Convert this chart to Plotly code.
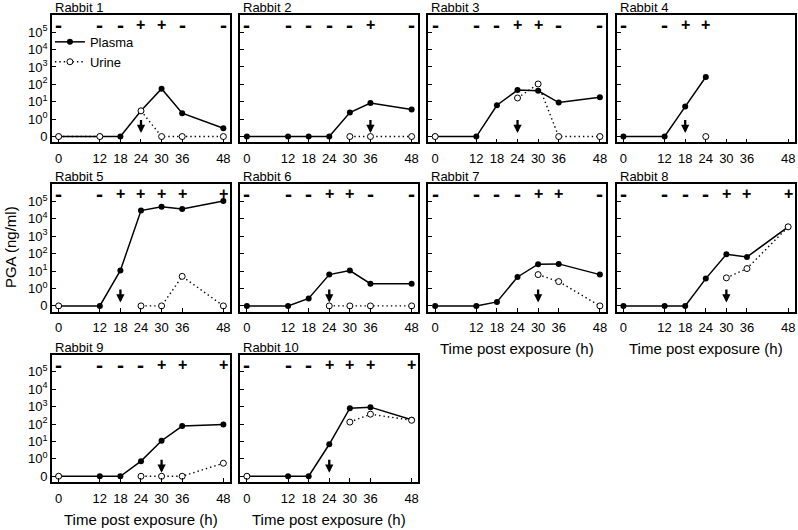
import math
import plotly.graph_objects as go

# ---------------- data ----------------
TIMES = [0, 12, 18, 24, 30, 36, 48]
TICK_TIMES = [0, 12, 18, 24, 30, 36, 48]
RABBITS = ["Rabbit 1", "Rabbit 2", "Rabbit 3", "Rabbit 4", "Rabbit 5",
           "Rabbit 6", "Rabbit 7", "Rabbit 8", "Rabbit 9", "Rabbit 10"]

# PGA (ng/ml); 0 = undetectable, None = not measured
PLASMA_R1 = [0, 0, 0, 3.0, 56, 2.2, 0.3]
PLASMA_R2 = [0, 0, 0, 0, 2.4, 8.5, 3.6]
PLASMA_R3 = [0, 0, 6.3, 47, 43, 9, 18]
PLASMA_R4 = [0, 0, 5.3, 263, None, None, None]
PLASMA_R5 = [0, 0, 11, 30000, 50000, 37000, 107000]
PLASMA_R6 = [0, 0, 0.27, 6.3, 10.7, 1.9, 1.9]
PLASMA_R7 = [0, 0, 0.17, 4.6, 25, 26, 6.3]
PLASMA_R8 = [0, 0, 0, 3.7, 92, 65, 3500]
PLASMA_R9 = [0, 0, 0, 0.74, 11, 77, 95]
PLASMA_R10 = [0, 0, 0, 6.9, 820, 940, 178]

URINE_R1 = [0, 0, None, 3.0, 0, 0, 0]
URINE_R2 = [None, None, None, None, 0, 0, 0]
URINE_R3 = [0, None, None, 16.5, 105, 0, 0]
URINE_R4 = [None, None, None, 0, None, None, None]
URINE_R5 = [0, None, None, 0, 0, 5, 0]
URINE_R6 = [None, None, None, 0, 0, 0, 0]
URINE_R7 = [None, None, None, None, 6.3, 2.5, 0]
URINE_R8 = [None, None, None, None, 4.1, 14, 3500]
URINE_R9 = [0, None, None, 0, 0, 0, 0.56]
URINE_R10 = [0, None, None, None, 130, 370, 165]

SIGNS_R1 = ["-", "-", "-", "+", "+", "-", "-"]
SIGNS_R2 = ["-", "-", "-", "-", "-", "+", "-"]
SIGNS_R3 = ["-", "-", "-", "+", "+", "-", "-"]
SIGNS_R4 = ["-", "-", "+", "+", None, None, None]
SIGNS_R5 = ["-", "-", "+", "+", "+", "+", "+"]
SIGNS_R6 = ["-", "-", "-", "+", "+", "-", "-"]
SIGNS_R7 = ["-", "-", "-", "-", "+", "+", "-"]
SIGNS_R8 = ["-", "-", "-", "-", "+", "+", "+"]
SIGNS_R9 = ["-", "-", "-", "-", "+", "+", "+"]
SIGNS_R10 = ["-", "-", "-", "+", "+", "+", "+"]

ARROW_TIMES = [24, 36, 24, 18, 18, 24, 30, 30, 30, 24]

Y_TICK_VALS = [-1, 0, 1, 2, 3, 4, 5]
Y_TICK_TEXT = ["0", "10<sup>0</sup>", "10<sup>1</sup>", "10<sup>2</sup>",
               "10<sup>3</sup>", "10<sup>4</sup>", "10<sup>5</sup>"]

PLASMA = [PLASMA_R1, PLASMA_R2, PLASMA_R3, PLASMA_R4, PLASMA_R5,
          PLASMA_R6, PLASMA_R7, PLASMA_R8, PLASMA_R9, PLASMA_R10]
URINE = [URINE_R1, URINE_R2, URINE_R3, URINE_R4, URINE_R5,
         URINE_R6, URINE_R7, URINE_R8, URINE_R9, URINE_R10]
SIGNS = [SIGNS_R1, SIGNS_R2, SIGNS_R3, SIGNS_R4, SIGNS_R5,
         SIGNS_R6, SIGNS_R7, SIGNS_R8, SIGNS_R9, SIGNS_R10]


def ymap(v):
    """0 plotted on a separate 'zero' level one decade below 10^0."""
    if v is None:
        return None
    if v <= 0:
        return -1
    return math.log10(v)


# ---------------- layout ----------------
W, H = 798, 530
COL_LEFT = [52, 240.5, 429, 617.5]
ROW_TOP = [15, 185, 356]
PW, PH = 178, 128
XR = [-1.95, 49.85]
YR = [-1.34, 5.99]
FONT = "Liberation Sans, Arial, sans-serif"

fig = go.Figure()
layout = dict(
    width=W, height=H, autosize=False,
    margin=dict(l=0, r=0, t=0, b=0, pad=0),
    paper_bgcolor="white", plot_bgcolor="white",
    font=dict(family=FONT, size=13, color="black"),
    showlegend=True,
    legend=dict(x=50 / W, y=1 - 27 / H, xanchor="left", yanchor="top",
                bgcolor="rgba(0,0,0,0)", font=dict(size=13),
                tracegroupgap=0),
)
annotations = []

for i in range(10):
    r, c = divmod(i, 4)
    left, top = COL_LEFT[c], ROW_TOP[r]
    n = "" if i == 0 else str(i + 1)
    xa, ya = "x" + n, "y" + n
    layout["xaxis" + n] = dict(
        domain=[left / W, (left + PW) / W], anchor=ya, range=XR,
        tickvals=TICK_TIMES, ticktext=[str(t) for t in TICK_TIMES],
        ticks="inside", ticklen=4, tickwidth=1.2, tickcolor="black",
        showline=True, mirror=True, linecolor="black", linewidth=1.6,
        showgrid=False, zeroline=False, tickfont=dict(size=13),
        ticklabelstandoff=3,
    )
    layout["yaxis" + n] = dict(
        domain=[1 - (top + PH) / H, 1 - top / H], anchor=xa, range=YR,
        tickvals=Y_TICK_VALS, ticktext=Y_TICK_TEXT,
        showticklabels=(c == 0),
        ticks="inside", ticklen=4, tickwidth=1.2, tickcolor="black",
        showline=True, mirror=True, linecolor="black", linewidth=1.6,
        showgrid=False, zeroline=False, tickfont=dict(size=13),
    )

    fig.add_trace(go.Scatter(
        x=TIMES, y=[ymap(v) for v in PLASMA[i]], xaxis=xa, yaxis=ya,
        mode="lines+markers", name="Plasma", showlegend=(i == 0),
        line=dict(color="black", width=1.5),
        marker=dict(symbol="circle", size=6, color="black"),
    ))
    fig.add_trace(go.Scatter(
        x=TIMES, y=[ymap(v) for v in URINE[i]], xaxis=xa, yaxis=ya,
        mode="lines+markers", name="Urine", showlegend=(i == 0),
        line=dict(color="black", width=1.4, dash="1.4px,3px"),
        marker=dict(symbol="circle", size=6, color="white",
                    line=dict(color="black", width=1)),
    ))

    # panel title
    annotations.append(dict(
        text=RABBITS[i], xref="paper", yref="paper",
        x=(left + 1) / W, y=1 - (top - 7.5) / H, xanchor="left", yanchor="middle",
        showarrow=False, font=dict(size=13),
    ))
    # +/- culture results
    for t, s in zip(TIMES, SIGNS[i]):
        if s is None:
            continue
        annotations.append(dict(
            text="<b>+</b>" if s == "+" else "<b>-</b>",
            xref=xa, yref=ya, x=t, y=5.45, showarrow=False,
            font=dict(size=16 if s == "+" else 21),
            xanchor="center", yanchor="middle",
        ))
    # arrow
    at = ARROW_TIMES[i]
    annotations.append(dict(
        text="", xref=xa, yref=ya, x=at, y=-0.8,
        axref=xa, ayref=ya, ax=at, ay=0.03,
        showarrow=True, arrowhead=2, arrowsize=0.72, arrowwidth=2.3,
        arrowcolor="black", standoff=0, startstandoff=0,
    ))

# axis titles
annotations.append(dict(
    text="PGA (ng/ml)", xref="paper", yref="paper",
    x=10 / W, y=1 - 248 / H, textangle=-90, showarrow=False,
    font=dict(size=15), xanchor="center", yanchor="middle",
))
for (c, yc) in [(2, 350), (3, 350), (0, 521), (1, 521)]:
    annotations.append(dict(
        text="Time post exposure (h)", xref="paper", yref="paper",
        x=(COL_LEFT[c] + PW / 2) / W, y=1 - yc / H, showarrow=False,
        font=dict(size=15), xanchor="center", yanchor="middle",
    ))

layout["annotations"] = annotations
fig.update_layout(**layout)
fig.write_html(
    "out.html",
    config={"displayModeBar": False},
    post_script="document.body.style.margin='0';document.body.style.overflow='hidden';",
)
